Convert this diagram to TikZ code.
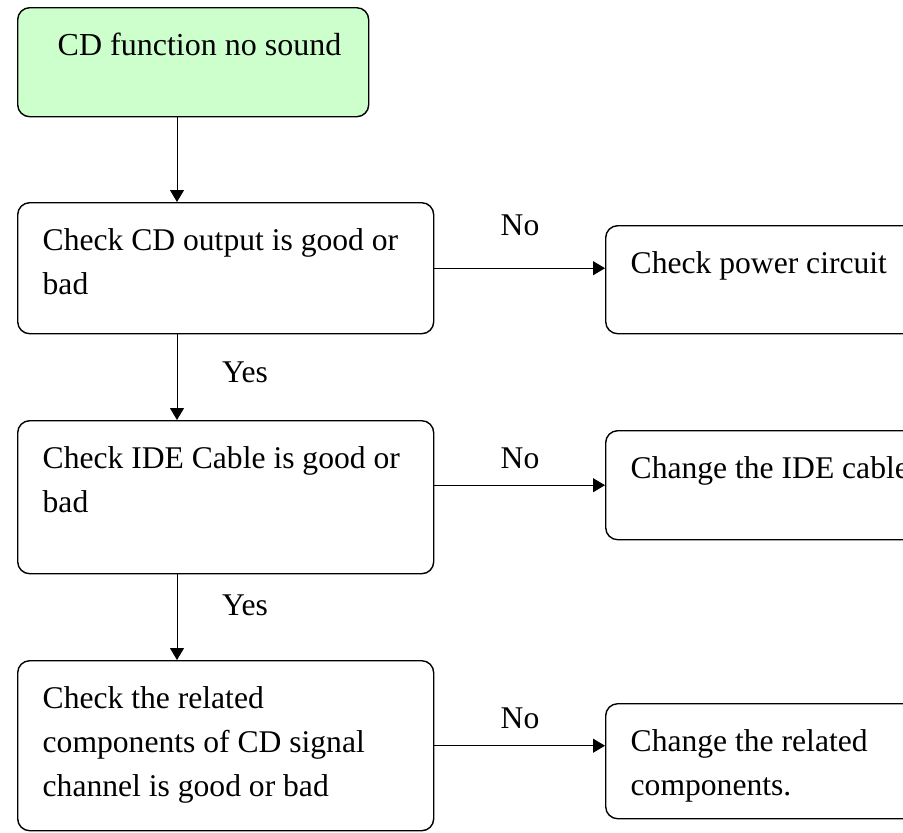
\documentclass[tikz,border=0pt]{standalone}
\usepackage{fontspec}
\setmainfont{Liberation Serif}
\usetikzlibrary{arrows.meta,positioning,calc}
\definecolor{startgreen}{HTML}{CCFFCC}

\begin{document}
\begin{tikzpicture}
[x=0.5pt,y=-0.5pt,
font=\fontsize{15.8pt}{22pt}\selectfont,
>={Triangle[length=6pt,width=7pt]},
%
box/.style={draw=black,line width=0.7pt,rounded corners=6pt,anchor=north west,
  align=flush left,inner ysep=0pt,inner xsep=12.5pt,text height=24pt},
check/.style={box,text width=183pt},
fix/.style={box,text width=172.5pt},
%
flow/.style={->,line width=0.5pt},
answer/.style={anchor=base,inner sep=0pt}]

\clip (0,0) rectangle (903,832);

\node (start) [box,fill=startgreen,inner xsep=8pt,text width=159.5pt,text depth=30.5pt,
  font=\fontsize{16pt}{22pt}\selectfont] at (17,7) {\hspace*{12pt}CD function no sound};
\node (output) [check,text depth=41.5pt] at (17,202) {Check CD output is good or\\bad};
\node (cable) [check,text depth=52.5pt] at (17,420) {Check IDE Cable is good or\\bad};
\node (signal) [check,text depth=61pt] at (17,660) {Check the related\\components of CD signal\\channel is good or bad};
\node (power) [fix,text depth=30pt] at (605,225) {Check power circuit};
\node (newcable) [fix,text depth=30.5pt] at (605,430) {Change the IDE cable};
\node (newparts) [fix,text depth=33.5pt] at (605,703) {Change the related\\components.};

\coordinate (spine) at (177,0);

\draw[flow] (start.south -| spine) -- (output.north -| spine);
\draw[flow] (output.south -| spine) -- (cable.north -| spine);
\draw[flow] (cable.south -| spine) -- (signal.north -| spine);
\draw[flow] (output.east) -- (output.east -| power.west);
\draw[flow] (newcable.west -| cable.east) -- (newcable.west);
\draw[flow] (signal.east) -- (signal.east -| newparts.west);

\node (yes1) [answer] at (245,382) {Yes};
\node (yes2) [answer] at (245,615) {Yes};
\node (no1) [answer] at (520,235) {No};
\node (no2) [answer] at (520,468) {No};
\node (no3) [answer] at (520,728) {No};

\end{tikzpicture}
\end{document}
